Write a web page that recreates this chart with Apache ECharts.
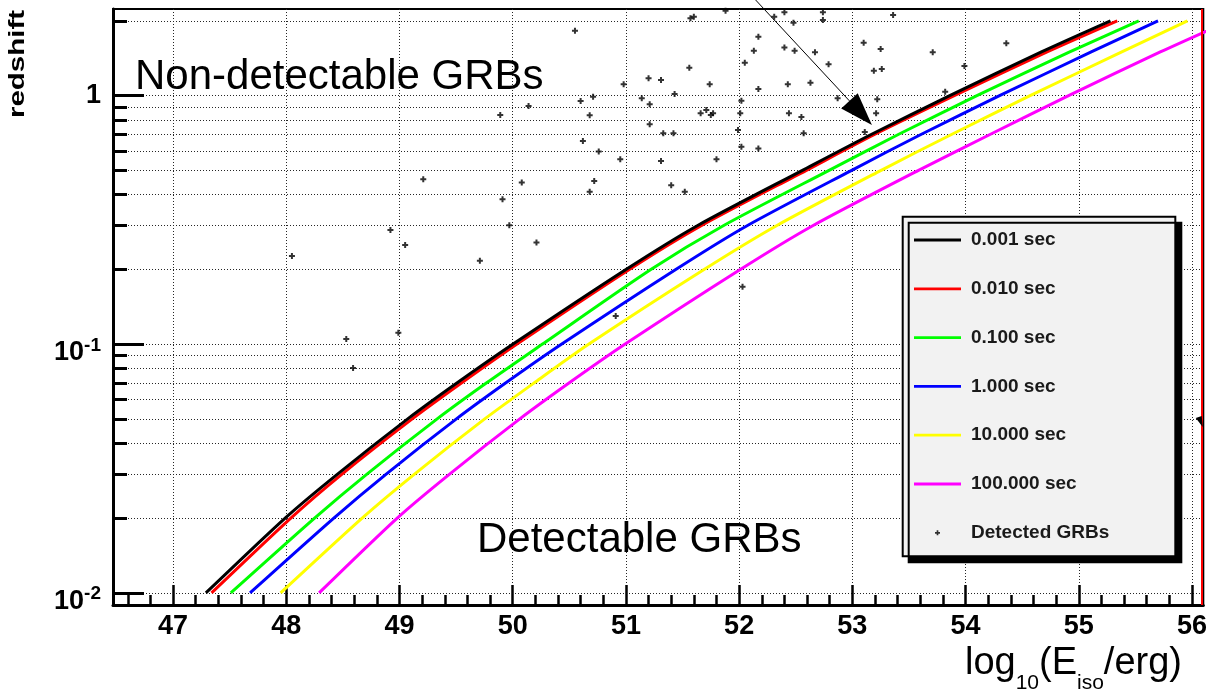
<!DOCTYPE html>
<html><head><meta charset="utf-8">
<script src="https://cdn.jsdelivr.net/npm/echarts@6/dist/echarts.min.js"></script>
<style>html,body{margin:0;padding:0;background:#fff}#c{width:1210px;height:691px}</style>
</head><body><div id="c"></div>
<script>
// ---------------- data ----------------
const zLevels = [0.01, 0.02, 0.03, 0.05, 0.07, 0.1, 0.2, 0.3, 0.5, 0.7, 1, 1.5, 2];
const curveNames = ['0.001 sec', '0.010 sec', '0.100 sec', '1.000 sec', '10.000 sec', '100.000 sec'];
const xBlack   = [47.29, 47.99, 48.45, 49.07, 49.51, 50.00, 51.00, 51.63, 52.555, 53.17, 53.86, 54.67, 55.28];
const xRed     = [47.34, 48.04, 48.49, 49.11, 49.55, 50.035, 51.03, 51.665, 52.59, 53.20, 53.90, 54.72, 55.34];
const xGreen   = [47.51, 48.25, 48.71, 49.33, 49.77, 50.26, 51.22, 51.86, 52.79, 53.41, 54.10, 54.92, 55.53];
const xBlue    = [47.68, 48.42, 48.88, 49.50, 49.94, 50.43, 51.44, 52.07, 52.99, 53.61, 54.30, 55.11, 55.70];
const xYellow  = [47.95, 48.67, 49.13, 49.75, 50.19, 50.67, 51.69, 52.33, 53.25, 53.88, 54.57, 55.38, 55.96];
const xMagenta = [48.29, 48.98, 49.44, 50.06, 50.50, 50.99, 52.01, 52.65, 53.58, 54.22, 54.91, 55.72, 56.33];

const grbX = [50.55,51.57,51.60,51.88,52.31,52.40,52.48,52.74,52.74,53.36,52.17,52.13,52.40,52.49,52.67,53.10,53.25,52.05,52.79,51.56,
  53.19,53.26,51.20,51.31,50.98,51.74,52.17,52.43,52.63,51.43,50.71,50.60,51.14,51.21,52.02,52.87,53.22,51.71,51.66,51.75,
  51.77,52.01,52.44,53.21,50.68,52.55,51.21,51.99,51.33,51.42,52.57,53.11,50.62,50.76,52.02,52.17,50.95,51.31,51.80,50.72,
  51.40,50.68,51.52,49.89,50.14,49.21,50.08,49.91,49.97,49.05,50.21,48.92,48.05,49.71,52.03,50.91,48.53,48.99,48.59,53.71,
  54.36,53.99,53.82];
const grbZ = [1.825,2.048,2.078,2.197,2.078,2.165,1.966,2.165,2.016,2.111,1.727,1.517,1.562,1.517,1.495,1.634,1.541,1.357,1.337,1.296,
  1.260,1.280,1.175,1.157,1.111,1.111,1.064,1.111,1.128,1.016,0.991,0.952,0.976,0.924,0.954,0.976,0.967,0.876,0.850,0.836,
  0.850,0.850,0.850,0.850,0.834,0.821,0.767,0.728,0.706,0.706,0.706,0.715,0.657,0.596,0.624,0.614,0.555,0.546,0.555,0.454,
  0.436,0.411,0.411,0.836,0.909,0.461,0.448,0.383,0.301,0.251,0.257,0.288,0.2266,0.217,0.1705,0.130,0.1051,0.1114,0.0803,1.495,
  1.624,1.316,1.038];

const xMajorTicks = [47, 48, 49, 50, 51, 52, 53, 54, 55, 56];
const yMajorTicks = [0.01, 0.1, 1];
const yMinorTicks = [0.02,0.03,0.04,0.05,0.06,0.07,0.08,0.09,0.2,0.3,0.4,0.5,0.6,0.7,0.8,0.9,2];
const xMinorTicks = [];
for (let k = 233; k <= 280; k++) { if (k % 5 !== 0) xMinorTicks.push(Math.round(k * 2) / 10); }

const arrowStart = [52.146, 2.426];
const arrowEnd = [53.173, 0.762];
const arrow2Tip = [56.095, 0.0465];
const redLineX = 56.085;

// ---------------- layout / style ----------------
const X_MIN = 46.4695, X_MAX = 56.1, Y_MIN = 0.0089437, Y_MAX = 2.2324;
const FONT = '"Liberation Sans", Arial, Helvetica, sans-serif';
const curveColors = ['#000000', '#ff0000', '#00ff00', '#0000ff', '#ffff00', '#ff00ff'];
const plusPath = 'path://M2,0H4V2H6V4H4V6H2V4H0V2H2Z';
const barIcon = 'path://M0,0H100V6H0Z';

function zip(xs, zs) { return xs.map((x, i) => [x, zs[i]]); }
const curves = [xBlack, xRed, xGreen, xBlue, xYellow, xMagenta];
const lineSeries = curves.map((xs, i) => ({
  name: curveNames[i], type: 'line', xAxisIndex: 0, yAxisIndex: 0,
  data: zip(xs, zLevels), symbol: 'none', showSymbol: false, smooth: 0.25,
  lineStyle: { color: curveColors[i], width: 3 }, itemStyle: { color: curveColors[i] },
  clip: true, silent: true
})).reverse();

const dotted = { color: '#262626', width: 1, type: [1, 2] };

const option = {
  animation: false,
  backgroundColor: '#ffffff',
  grid: { left: 113, top: 9, width: 1094.7, height: 596, show: true, borderColor: '#000', borderWidth: 2, backgroundColor: 'transparent', containLabel: false },
  xAxis: [
    { type: 'value', min: X_MIN, max: X_MAX, position: 'bottom',
      axisLine: { show: true, onZero: false, lineStyle: { color: '#000', width: 3 } },
      axisTick: { show: true, inside: true, length: 20, customValues: xMajorTicks, lineStyle: { color: '#000', width: 2.5 } },
      axisLabel: { show: true, customValues: xMajorTicks, margin: 7, fontSize: 27, fontWeight: 'bold', fontFamily: FONT, color: '#000', lineHeight: 30 },
      splitLine: { show: true, lineStyle: dotted }, minorTick: { show: false } },
    { type: 'value', min: X_MIN, max: X_MAX, position: 'bottom',
      axisLine: { show: false },
      axisTick: { show: true, inside: true, length: 10, customValues: xMinorTicks, lineStyle: { color: '#000', width: 2.5 } },
      axisLabel: { show: false }, splitLine: { show: false } }
  ],
  yAxis: [
    { type: 'log', logBase: 10, min: Y_MIN, max: Y_MAX, position: 'left',
      axisLine: { show: true, onZero: false, lineStyle: { color: '#000', width: 3 } },
      axisTick: { show: true, inside: true, length: 31, customValues: yMajorTicks, lineStyle: { color: '#000', width: 3 } },
      axisLabel: { show: true, customValues: yMajorTicks, margin: 12,
        formatter: function (v) {
          const e = Math.round(Math.log10(v));
          return e === 0 ? '{o|1}' : '{b|10}{s|' + e + '}';
        },
        rich: {
          o: { fontSize: 27, fontWeight: 'bold', fontFamily: FONT, color: '#000', lineHeight: 30 },
          b: { fontSize: 27, fontWeight: 'bold', fontFamily: FONT, color: '#000', lineHeight: 30, padding: [17.4, 0, 0, 0] },
          s: { fontSize: 19, fontWeight: 'bold', fontFamily: FONT, color: '#000', lineHeight: 19, padding: [2, 0, 0, 0] }
        } },
      splitLine: { show: true, lineStyle: dotted } },
    { type: 'log', logBase: 10, min: Y_MIN, max: Y_MAX, position: 'left',
      axisLine: { show: false },
      axisTick: { show: true, inside: true, length: 14, customValues: yMinorTicks, lineStyle: { color: '#000', width: 3 } },
      axisLabel: { show: false },
      splitLine: { show: true, lineStyle: dotted } }
  ],
  legend: {
    data: curveNames.map(n => ({ name: n, icon: barIcon })).concat([{ name: 'Detected GRBs', icon: plusPath }]),
    orient: 'vertical', left: 902.7, top: 216.7,
    padding: [13.8, 66, 13.9, 11.3], itemGap: 29.8, itemWidth: 47, itemHeight: 5,
    backgroundColor: '#f2f2f2', borderColor: '#000', borderWidth: 2,
    shadowColor: '#000', shadowBlur: 0, shadowOffsetX: 6, shadowOffsetY: 6,
    selectedMode: false,
    textStyle: { fontSize: 19, fontWeight: 'bold', fontFamily: FONT, color: '#1a1a1a', lineHeight: 19, padding: [0, 0, 0, 5] }
  },
  series: lineSeries.concat([{
    name: 'Detected GRBs', type: 'scatter', xAxisIndex: 0, yAxisIndex: 0,
    data: zip(grbX, grbZ), symbol: plusPath, symbolSize: 6,
    itemStyle: { color: '#000' }, clip: true, silent: true,
    markLine: { silent: true, symbol: ['none', 'none'], label: { show: false },
      lineStyle: { color: '#ff0000', width: 2, type: 'solid' }, data: [{ xAxis: redLineX }] }
  }])
};

const chart = echarts.init(document.getElementById('c'), null, { renderer: 'canvas' });
chart.setOption(option);

// annotation arrows, positioned through the chart's own axes
const toPx = p => chart.convertToPixel({ xAxisIndex: 0, yAxisIndex: 0 }, p);
const p0 = toPx(arrowStart), p1 = toPx(arrowEnd), q = toPx(arrow2Tip);
const dx = p1[0] - p0[0], dy = p1[1] - p0[1], L = Math.hypot(dx, dy);
const ux = dx / L, uy = dy / L, nx = -uy, ny = ux;
const headLen = 33, headHalf = 11.3;
const bx = p1[0] - ux * headLen, by = p1[1] - uy * headLen;

chart.setOption({
  graphic: { elements: [
    { type: 'line', z: 50, shape: { x1: p0[0], y1: p0[1], x2: bx, y2: by }, style: { stroke: '#000', lineWidth: 1 } },
    { type: 'polygon', z: 50, shape: { points: [[p1[0], p1[1]], [bx + nx * headHalf, by + ny * headHalf], [bx - nx * headHalf, by - ny * headHalf]] }, style: { fill: '#000' } },
    { type: 'polygon', z: 50, shape: { points: [[q[0], q[1]], [q[0] - 7, q[1] - 9], [q[0] - 1, q[1] - 11]] }, style: { fill: '#000' } },
    { type: 'text', z: 60, x: 135, y: 77, style: { text: 'Non-detectable GRBs', fontSize: 42, fontFamily: FONT, fill: '#000', align: 'left', verticalAlign: 'middle', textAlign: 'left', textVerticalAlign: 'middle' } },
    { type: 'text', z: 60, x: 477, y: 540.3, style: { text: 'Detectable GRBs', fontSize: 42, fontFamily: FONT, fill: '#000', align: 'left', verticalAlign: 'middle', textAlign: 'left', textVerticalAlign: 'middle' } },
    { type: 'text', z: 60, x: 1182, y: 663.4, style: {
        text: '{m|log}{u|10}{m|(E}{u|iso}{m|/erg)}', align: 'right', verticalAlign: 'middle', textAlign: 'right', textVerticalAlign: 'middle',
        rich: { m: { fontSize: 38, fontFamily: FONT, fill: '#000', lineHeight: 44 }, u: { fontSize: 21, fontFamily: FONT, fill: '#000', lineHeight: 20, padding: [39.2, 0, 0, 0] } } } },
    { type: 'text', z: 60, x: 17.5, y: 64, rotation: Math.PI / 2, scaleX: 1.34, style: { text: 'redshift', fontSize: 22, fontWeight: 'bold', fontFamily: FONT, fill: '#000', align: 'center', verticalAlign: 'middle', textAlign: 'center', textVerticalAlign: 'middle' } }
  ] }
});
</script>
</body></html>
